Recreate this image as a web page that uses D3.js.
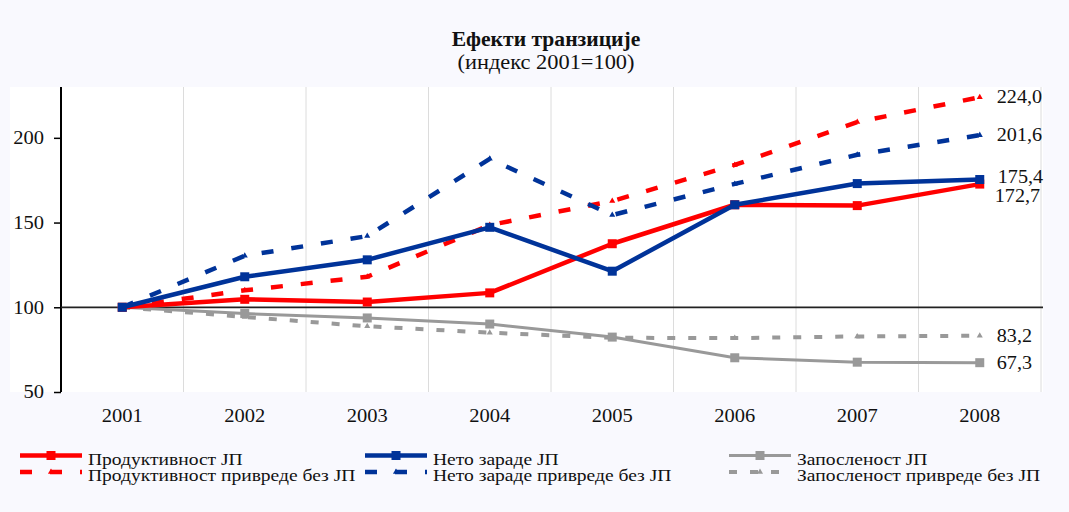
<!DOCTYPE html>
<html><head><meta charset="utf-8">
<script src="https://cdn.jsdelivr.net/npm/d3@7"></script>
<style>
html,body{margin:0;padding:0;background:#f9f9fe;}
svg{display:block;font-family:"Liberation Serif","Times New Roman",serif;}
</style></head>
<body>
<svg id="chart" width="1069" height="512"></svg>
<script>
const years = ["2001","2002","2003","2004","2005","2006","2007","2008"];
const yTicks = [50, 100, 150, 200];
const productivityJP = [100, 104.7, 103.1, 108.5, 137.5, 160.5, 160.0, 172.7];
const netWagesJP = [100, 118.0, 128.0, 147.2, 121.3, 160.5, 173.0, 175.4];
const employmentJP = [100, 96.3, 93.7, 90.1, 82.4, 70.2, 67.6, 67.3];
const productivityOther = [100, 110.0, 118.0, 148.5, 162.7, 184.0, 209.3, 224.0];
const netWagesOther = [100, 130.4, 142.0, 187.6, 154.4, 172.8, 190.0, 201.6];
const employmentOther = [100, 94.3, 88.8, 85.0, 82.0, 81.8, 82.8, 83.2];
const endLabels = ["224,0", "201,6", "175,4", "172,7", "83,2", "67,3"];
const seriesNames = ["Продуктивност ЈП", "Нето зараде ЈП", "Запосленост ЈП",
  "Продуктивност привреде без ЈП", "Нето зараде привреде без ЈП", "Запосленост привреде без ЈП"];
const title = "Ефекти транзиције";
const subtitle = "(индекс 2001=100)";

const series = [
  {name: seriesNames[0], values: productivityJP, color: "#ff0000", dash: null, marker: "square", w: 4.5},
  {name: seriesNames[1], values: netWagesJP, color: "#003399", dash: null, marker: "square", w: 4.5},
  {name: seriesNames[2], values: employmentJP, color: "#999999", dash: null, marker: "square", w: 3},
  {name: seriesNames[3], values: productivityOther, color: "#ff0000", dash: "12,18", marker: "triangle", w: 4.5},
  {name: seriesNames[4], values: netWagesOther, color: "#003399", dash: "12,18", marker: "triangle", w: 4.5},
  {name: seriesNames[5], values: employmentOther, color: "#999999", dash: "8,13", marker: "triangle", w: 4}
];

const SX = 1.14;
function stretchAxisText(sel, sx) {
  sel.each(function() {
    const t = d3.select(this);
    const xv = +t.attr("x") || 0;
    t.attr("x", xv / sx).attr("transform", `scale(${sx},1)`);
  });
}
function addText(parent, X, Y, str, opts = {}) {
  const t = parent.append("text")
    .attr("x", 0).attr("y", 0)
    .attr("transform", `translate(${X},${Y}) scale(${opts.sx || SX},1)`)
    .attr("font-size", opts.size || 18).attr("fill", "#111")
    .attr("text-anchor", opts.anchor || "start")
    .text(str);
  if (opts.bold) t.attr("font-weight", "bold");
  if (opts.dy) t.attr("dy", opts.dy);
  return t;
}

const svg = d3.select("#chart");
const plot = {left: 10, top: 87, right: 1043, bottom: 392};
const x = d3.scaleBand().domain(years).range([61, 1041]);
const xc = d => x(d) + x.bandwidth() / 2;
const y = d3.scaleLinear().domain([50, 230]).range([392, 87]);

svg.append("rect").attr("x", plot.left).attr("y", plot.top)
  .attr("width", plot.right - plot.left).attr("height", plot.bottom - plot.top).attr("fill", "#ffffff");

// vertical gridlines at band boundaries
svg.append("g").selectAll("line").data(years).join("line")
  .attr("x1", d => x(d) + x.step())
  .attr("x2", d => x(d) + x.step())
  .attr("y1", plot.top).attr("y2", plot.bottom)
  .attr("stroke", "#dcdcdc").attr("stroke-width", 1);

// title
addText(svg, 546, 46, title, {anchor: "middle", bold: true, size: 20, sx: 1.08});
addText(svg, 546, 69, subtitle, {anchor: "middle", size: 20, sx: 1.12});

// y axis
const yAxis = d3.axisLeft(y).tickValues(yTicks).tickSize(7).tickPadding(10);
const gy = svg.append("g").attr("transform", "translate(61,0)").call(yAxis);
gy.select(".domain").attr("d", `M0,${plot.top}V${plot.bottom}`).attr("stroke", "#000").attr("stroke-width", 2);
gy.selectAll(".tick line").attr("stroke", "#000").attr("stroke-width", 1.5);
gy.selectAll(".tick text").attr("font-size", 18).attr("fill", "#111")
  .attr("font-family", "Liberation Serif, serif");
stretchAxisText(gy.selectAll(".tick text"), SX);

// x axis labels
const xAxis = d3.axisBottom(x).tickSize(0).tickPadding(17);
const gx = svg.append("g").attr("transform", `translate(0,${plot.bottom})`).call(xAxis);
gx.select(".domain").remove();
gx.selectAll(".tick text").attr("font-size", 18).attr("fill", "#111")
  .attr("font-family", "Liberation Serif, serif");
stretchAxisText(gx.selectAll(".tick text"), SX);

// reference line at 100
svg.append("line").attr("x1", 61).attr("x2", plot.right).attr("y1", y(100)).attr("y2", y(100))
  .attr("stroke", "#222").attr("stroke-width", 1.8);

const line = d3.line().x((d, i) => xc(years[i])).y(d => y(d));
const tri = d3.symbol().type(d3.symbolTriangle).size(16);

// draw order: dashed first, then solid
const order = [5, 3, 4, 2, 0, 1];
order.forEach(k => {
  const s = series[k];
  const g = svg.append("g");
  g.append("path").datum(s.values).attr("d", line).attr("fill", "none")
    .attr("stroke", s.color).attr("stroke-width", s.w)
    .attr("stroke-dasharray", s.dash).attr("stroke-linejoin", "round");
  if (s.marker === "square") {
    const sz = 9;
    g.selectAll("rect").data(s.values).join("rect")
      .attr("x", (d, i) => xc(years[i]) - sz / 2).attr("y", d => y(d) - sz / 2)
      .attr("width", sz).attr("height", sz).attr("fill", s.color);
  } else {
    g.selectAll("path.m").data(s.values).join("path").attr("class", "m")
      .attr("d", tri).attr("transform", (d, i) => `translate(${xc(years[i])},${y(d)})`)
      .attr("fill", s.color);
  }
});

// end labels
const labelPos = [
  {v: productivityOther[7], t: endLabels[0], dx: 17, dy: 0},
  {v: netWagesOther[7], t: endLabels[1], dx: 17, dy: 0},
  {v: netWagesJP[7], t: endLabels[2], dx: 18, dy: -3},
  {v: productivityJP[7], t: endLabels[3], dx: 15, dy: 12},
  {v: employmentOther[7], t: endLabels[4], dx: 17, dy: 0},
  {v: employmentJP[7], t: endLabels[5], dx: 17, dy: 0}
];
const gl = svg.append("g");
labelPos.forEach(d => {
  addText(gl, xc(years[7]) + d.dx, y(d.v) + d.dy, d.t, {size: 18, dy: "0.35em", sx: 1.12});
});

// legend
const legCols = [20, 365, 729];
const legLines = [455.5, 472];
const legText = [459, 475.5];
const legLen = 62;
series.forEach((s, k) => {
  const col = k % 3, row = Math.floor(k / 3);
  const lx = legCols[col], ly = legLines[row];
  const g = svg.append("g");
  if (!s.dash) {
    g.append("line").attr("x1", lx).attr("x2", lx + legLen).attr("y1", ly).attr("y2", ly)
      .attr("stroke", s.color).attr("stroke-width", s.w);
    g.append("rect").attr("x", lx + legLen / 2 - 4.5).attr("y", ly - 4.5).attr("width", 9).attr("height", 9)
      .attr("fill", s.color);
  } else {
    g.append("line").attr("x1", lx).attr("x2", lx + legLen).attr("y1", ly).attr("y2", ly)
      .attr("stroke", s.color).attr("stroke-width", s.w).attr("stroke-dasharray", k === 5 ? "8,13" : "12,18");
    g.append("path").attr("d", tri).attr("transform", `translate(${lx + legLen / 2},${ly})`)
      .attr("fill", s.color);
  }
  addText(g, lx + legLen + 6, legText[row], s.name, {size: 17, dy: "0.35em", sx: 1.15});
});
</script>
</body></html>
